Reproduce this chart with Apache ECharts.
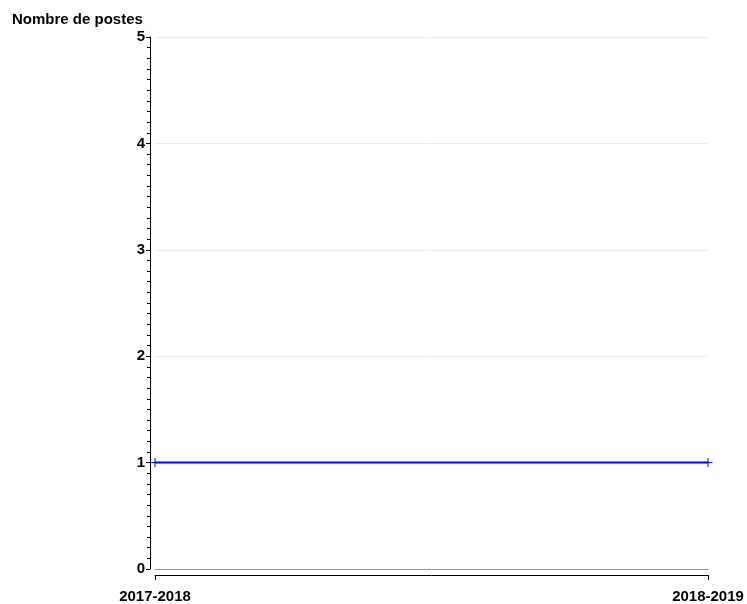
<!DOCTYPE html>
<html>
<head>
<meta charset="utf-8">
<script src="https://cdn.jsdelivr.net/npm/echarts@6/dist/echarts.min.js"></script>
<style>html,body{margin:0;padding:0;background:#fff}#c{width:747px;height:604px}</style>
</head>
<body>
<div id="c"></div>
<script>
const categories = ['2017-2018', '2018-2019'];
const values = [1, 1];
const yTicks = [0, 1, 2, 3, 4, 5];
const yTitle = 'Nombre de postes';

const font = '"Liberation Sans", Arial, sans-serif';
const chart = echarts.init(document.getElementById('c'), null, {renderer: 'canvas'});
chart.setOption({
  animation: false,
  backgroundColor: '#fff',
  title: {
    text: yTitle, left: 12, top: 12, padding: 0,
    textStyle: {fontFamily: font, fontSize: 15, fontWeight: 'bold', color: '#000'}
  },
  grid: {left: 155, right: 39, top: 37, bottom: 35, containLabel: false, outerBoundsMode: 'none'},
  xAxis: [{
    type: 'category', data: categories, boundaryGap: false,
    axisLine: {onZero: true, lineStyle: {color: '#999', width: 1}},
    axisTick: {show: false}, axisLabel: {show: false}, splitLine: {show: false}
  }, {
    type: 'category', data: categories, boundaryGap: false, position: 'bottom', offset: 6,
    axisLine: {show: true, onZero: false, lineStyle: {color: '#000', width: 1}},
    axisTick: {show: true, length: 5, alignWithLabel: true, lineStyle: {color: '#000'}},
    axisLabel: {show: true, margin: 14, fontFamily: font, fontSize: 15, fontWeight: 'bold', color: '#000', hideOverlap: false},
    splitLine: {show: false}
  }],
  yAxis: {
    type: 'value', min: yTicks[0], max: yTicks[yTicks.length - 1], interval: 1,
    offset: 5,
    axisLine: {show: true, lineStyle: {color: '#000', width: 1}},
    axisTick: {show: true, length: 4, lineStyle: {color: '#000'}},
    minorTick: {show: true, splitNumber: 10, length: 3, lineStyle: {color: '#000'}},
    axisLabel: {margin: 5, fontFamily: font, fontSize: 15, fontWeight: 'bold', color: '#000'},
    splitLine: {show: true, lineStyle: {color: '#ececec', width: 1}}
  },
  series: [{
    type: 'line', data: values, xAxisIndex: 0,
    lineStyle: {color: '#0000ff', width: 2},
    symbol: 'path://M0,5L10,5M5,0L5,10', symbolSize: 9, showSymbol: true,
    itemStyle: {color: '#0000ff', borderColor: '#0000ff', borderWidth: 1},
    z: 5
  }]
});
</script>
</body>
</html>
